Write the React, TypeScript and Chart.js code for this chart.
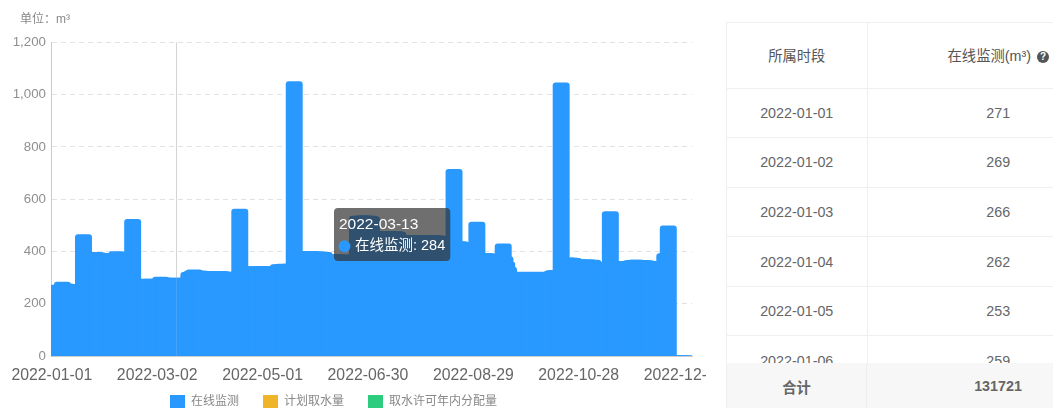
import React, { useEffect, useRef } from "react";
import { Chart, Tooltip, registerables } from "chart.js";

Chart.register(...registerables);

const FONT = '"Liberation Sans","Noto Sans CJK SC",sans-serif';

const unitLabel = "单位：m³";
const seriesNames = ["在线监测", "计划取水量", "取水许可年内分配量"];
const seriesColors = ["#2999ff", "#f0b429", "#2ecc7f"];
const yTicks = [0, 200, 400, 600, 800, 1000, 1200];
const xLabelEvery = 60;
const highlightedDay = 71;

// Daily volumes for 2022; the last days of the year have no readings yet.
const onlineValues = [
  271, 269, 266, 262, 253, 259, 283, 268, 276, 272,
  274, 272, 270, 272, 271, 273, 272, 270, 465, 389,
  390, 391, 394, 395, 396, 396, 395, 394, 393, 392,
  390, 389, 388, 387, 387, 388, 392, 400, 297, 295,
  294, 296, 293, 295, 294, 296, 523, 293, 292, 293,
  293, 292, 293, 294, 293, 292, 294, 293, 292, 293,
  294, 293, 302, 297, 298, 297, 298, 297, 298, 296,
  297, 284, 296, 298, 297, 298, 297, 298, 320, 322,
  326, 330, 325, 325, 325, 325, 323, 322, 323, 323,
  322, 323, 323, 322, 323, 322, 323, 323, 318, 320,
  319, 321, 318, 320, 319, 321, 320, 562, 340, 340,
  341, 340, 339, 340, 341, 340, 340, 341, 340, 343,
  340, 339, 341, 340, 339, 341, 340, 341, 340, 350,
  349, 350, 352, 351, 350, 352, 350, 351, 1050, 399,
  400, 400, 401, 400, 400, 399, 400, 401, 400, 398,
  398, 399, 398, 397, 398, 397, 390, 389, 388, 387,
  388, 387, 386, 387, 386, 385, 386, 385, 386, 385,
  386, 385, 386, 385, 535, 534, 535, 535, 536, 535,
  534, 535, 533, 475, 474, 475, 476, 475, 474, 475,
  475, 474, 476, 475, 474, 475, 476, 474, 460, 459,
  460, 461, 460, 459, 460, 460, 461, 459, 460, 461,
  460, 459, 460, 461, 460, 459, 460, 461, 460, 459,
  460, 455, 452, 450, 448, 446, 444, 442, 440, 714,
  437, 437, 437, 437, 430, 425, 420, 415, 410, 405,
  400, 395, 512, 385, 388, 390, 392, 392, 392, 390,
  388, 386, 388, 387, 386, 385, 386, 429, 380, 360,
  340, 322, 316, 318, 320, 320, 319, 320, 321, 320,
  319, 320, 320, 319, 320, 321, 320, 319, 320, 320,
  319, 320, 321, 320, 320, 326, 327, 326, 327, 326,
  1045, 374, 374, 375, 375, 375, 375, 374, 368, 367,
  367, 368, 367, 366, 367, 368, 367, 366, 367, 360,
  355, 352, 350, 352, 355, 350, 352, 355, 553, 358,
  358, 359, 360, 360, 361, 361, 361, 362, 362, 363,
  365, 366, 367, 367, 366, 366, 365, 365, 364, 364,
  362, 361, 362, 361, 360, 360, 361, 360, 361, 392,
  392, 498, 0, 0, 0, 0, 0, 0, 0, 0,
  0, 0, 0, 0, 0,
];

const dayLabels = onlineValues.map((_, i) =>
  new Date(Date.UTC(2022, 0, 1 + i)).toISOString().slice(0, 10)
);

const tableDates = ["2022-01-01", "2022-01-02", "2022-01-03", "2022-01-04", "2022-01-05", "2022-01-06"];
const tableValues = [271, 269, 266, 262, 253, 259];
const tableHeader = ["所属时段", "在线监测(m³)"];
const tableFooter = ["合计", "131721"];

(Tooltip.positioners as any).pinned = () => ({ x: 338, y: 208 });

// Vertical guide at the highlighted day: solid on white, barely visible over the bars.
const guideLine = {
  id: "guideLine",
  beforeDatasetsDraw(chart: any) {
    drawGuide(chart, "#d2d2d2");
  },
  afterDatasetsDraw(chart: any) {
    drawGuide(chart, "rgba(225,225,225,0.16)");
  },
};

function drawGuide(chart: any, color: string) {
  const x = Math.round(chart.scales.x.getPixelForValue(highlightedDay)) - 0.5;
  const { top, bottom } = chart.chartArea;
  const ctx = chart.ctx;
  ctx.save();
  ctx.strokeStyle = color;
  ctx.lineWidth = 1;
  ctx.beginPath();
  ctx.moveTo(x, top);
  ctx.lineTo(x, bottom);
  ctx.stroke();
  ctx.restore();
}

// Nudges the title and legend into their places after the layout pass.
const blockOffsets = {
  id: "blockOffsets",
  afterLayout(chart: any) {
    chart.titleBlock.left += 20;
    chart.titleBlock.right += 20;
    chart.legend.left -= 12.5;
    chart.legend.right -= 12.5;
    chart.legend.top -= 15;
    chart.legend.bottom -= 15;
  },
};

const cellBorder = "1px solid #efefef";

function App() {
  const ref = useRef<HTMLCanvasElement>(null);

  useEffect(() => {
    const chart = new Chart(ref.current as HTMLCanvasElement, {
      type: "bar",
      data: {
        labels: dayLabels,
        datasets: [
          { label: seriesNames[0], data: onlineValues, backgroundColor: seriesColors[0], hoverBackgroundColor: seriesColors[0] },
          { label: seriesNames[1], data: [], backgroundColor: seriesColors[1] },
          { label: seriesNames[2], data: [], backgroundColor: seriesColors[2] },
        ],
      },
      options: {
        responsive: false,
        animation: false,
        events: [],
        layout: { padding: { left: 0, right: 14, top: 0, bottom: -25 } },
        datasets: {
          bar: {
            grouped: false,
            barThickness: 16.3,
            borderRadius: { topLeft: 3, topRight: 3, bottomLeft: 0, bottomRight: 0 },
          },
        },
        scales: {
          x: {
            grid: { display: false },
            border: { display: true, color: "#cccccc" },
            afterFit(scale: any) {
              scale.paddingLeft = 0;
              scale.paddingRight = 0;
              scale.height = 30;
            },
            ticks: {
              autoSkip: false,
              maxRotation: 0,
              minRotation: 0,
              padding: 2,
              color: "#666666",
              font: { family: FONT, size: 15.8 },
              callback(_v: any, i: number) {
                return i % xLabelEvery === 0 ? dayLabels[i] : "";
              },
            },
          },
          y: {
            min: yTicks[0],
            max: yTicks[yTicks.length - 1],
            afterFit(scale: any) {
              scale.width = 51;
              scale.paddingTop = 0;
              scale.paddingBottom = 0;
            },
            afterBuildTicks(scale: any) {
              scale.ticks = yTicks.map((value) => ({ value }));
            },
            grid: { color: "#e2e2e2", drawTicks: false },
            border: { display: true, color: "#cccccc", dash: [5, 4] },
            ticks: {
              padding: 5,
              color: "#8f8f8f",
              font: { family: FONT, size: 13.3 },
              callback: (v: any) => Number(v).toLocaleString("en-US"),
            },
          },
        },
        plugins: {
          title: {
            display: true,
            text: unitLabel,
            align: "start",
            color: "#888888",
            font: { family: FONT, size: 12, weight: "normal" },
            padding: { top: 12, bottom: 16 },
          },
          legend: {
            position: "bottom",
            labels: {
              boxWidth: 15,
              boxHeight: 13,
              padding: 24,
              color: "#888888",
              font: { family: FONT, size: 12 },
            },
          },
          tooltip: {
            position: "pinned" as any,
            xAlign: "left",
            yAlign: "top",
            caretSize: 0,
            caretPadding: 0,
            cornerRadius: 4,
            backgroundColor: "rgba(50,50,50,0.7)",
            titleColor: "#ffffff",
            bodyColor: "#ffffff",
            titleFont: { family: FONT, size: 15.5, weight: "normal" },
            bodyFont: { family: FONT, size: 14.5 },
            titleMarginBottom: 4,
            padding: { left: 5, right: 5, top: 7, bottom: 6 },
            usePointStyle: true,
            boxWidth: 11,
            boxHeight: 11,
            boxPadding: 3,
            multiKeyBackground: "rgba(0,0,0,0)",
            callbacks: {
              labelColor: () => ({ borderColor: seriesColors[0], backgroundColor: seriesColors[0] }),
              labelPointStyle: () => ({ pointStyle: "circle", rotation: 0 }),
            },
          },
        },
      },
      plugins: [guideLine, blockOffsets],
    } as any);

    const active = [{ datasetIndex: 0, index: highlightedDay }];
    chart.setActiveElements(active);
    (chart.tooltip as any).setActiveElements(active, { x: 0, y: 0 });
    chart.render();
    return () => chart.destroy();
  }, []);

  const cell: React.CSSProperties = {
    position: "absolute",
    textAlign: "center",
    boxSizing: "border-box",
    display: "flex",
    alignItems: "center",
    justifyContent: "center",
  };

  return (
    <div style={{ position: "fixed", left: 0, top: 0, width: 1053, height: 408, overflow: "hidden", background: "#fff", fontFamily: FONT }}>
      <canvas ref={ref} width={706} height={408} style={{ position: "absolute", left: 0, top: 0, display: "block" }} />
      <div style={{ position: "absolute", left: 726, top: 22, width: 327, height: 386, overflow: "hidden", borderLeft: cellBorder, borderTop: cellBorder, boxSizing: "border-box", color: "#666", fontSize: 14.3 }}>
        <table style={{ borderCollapse: "collapse", tableLayout: "fixed", width: 402, position: "absolute", left: 0, top: 0 }}>
          <colgroup>
            <col style={{ width: 140 }} />
            <col style={{ width: 262 }} />
          </colgroup>
          <thead>
            <tr style={{ height: 65, borderBottom: cellBorder }}>
              <th style={{ fontWeight: 400, color: "#555", borderRight: cellBorder, padding: "0 0 2px" }}>{tableHeader[0]}</th>
              <th style={{ fontWeight: 400, color: "#555", padding: "0 0 2px" }}>
                {tableHeader[1]}
                <span style={{ display: "inline-block", width: 12, height: 12, lineHeight: "12px", marginLeft: 6, borderRadius: "50%", background: "#555", color: "#fff", fontSize: 10, fontWeight: 700, verticalAlign: "1px" }}>?</span>
              </th>
            </tr>
          </thead>
          <tbody>
            {tableDates.map((d, i) => (
              <tr key={d} style={{ height: 49.6, borderBottom: cellBorder }}>
                <td style={{ textAlign: "center", borderRight: cellBorder, padding: 0 }}>{d}</td>
                <td style={{ textAlign: "center", padding: 0 }}>{tableValues[i]}</td>
              </tr>
            ))}
          </tbody>
        </table>
        <div style={{ position: "absolute", left: 0, top: 340, width: 327, height: 46, background: "#f7f7f7", fontWeight: 700 }}>
          <div style={{ ...cell, left: 0, width: 140, height: 46, borderRight: cellBorder }}>{tableFooter[0]}</div>
          <div style={{ ...cell, left: 140, width: 262, height: 46 }}>{tableFooter[1]}</div>
        </div>
      </div>
    </div>
  );
}

export default App;
